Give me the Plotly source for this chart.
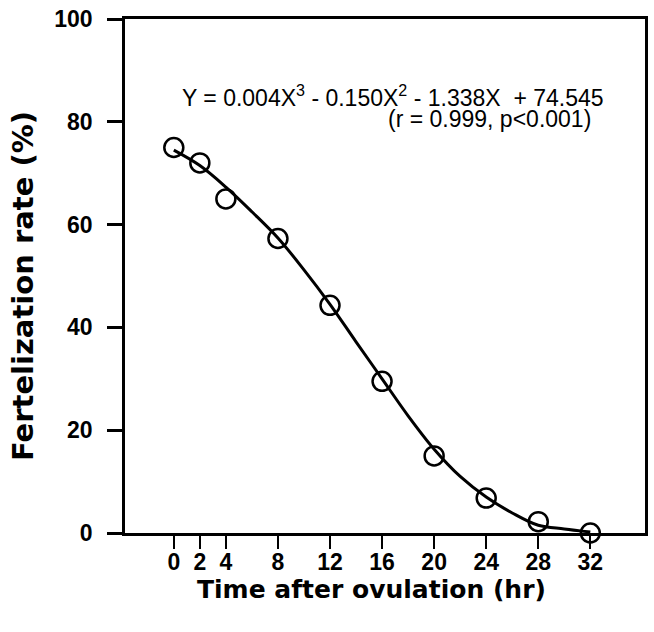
import plotly.graph_objects as go

# Observed data (time after ovulation in hr, fertilization rate in %)
time_hr = [0, 2, 4, 8, 12, 16, 20, 24, 28, 32]
fert_rate = [75.0, 72.0, 65.0, 57.3, 44.3, 29.5, 15.0, 6.8, 2.2, 0.0]

# Fitted curve as drawn in the figure
curve_x = [0, 2, 4, 6, 8, 10, 12, 14, 16, 18, 20, 22, 24, 26, 28, 30, 32]
curve_y = [74.5, 71.5, 67.3, 62.5, 57.4, 51.2, 44.5, 37.2, 30.0, 22.8, 16.3, 11.0, 7.0, 3.9, 1.5, 0.8, 0.2]

x_ticks = [0, 2, 4, 8, 12, 16, 20, 24, 28, 32]
y_ticks = [0, 20, 40, 60, 80, 100]

x_title = "Time after ovulation (hr)"
y_title = "Fertelization rate (%)"
eq_line1 = "Y = 0.004X<sup>3</sup> - 0.150X<sup>2</sup> - 1.338X  + 74.545"
eq_line2 = "(r = 0.999, p<0.001)"

W, H = 654, 632
ML, MR, MT, MB = 125, 6, 16, 99
PW, PH = W - ML - MR, H - MT - MB


def px_x(px):
    return (px - ML) / PW


def px_y(py):
    return (H - MB - py) / PH


fig = go.Figure()
fig.add_trace(go.Scatter(
    x=curve_x, y=curve_y, mode="lines",
    line=dict(color="black", width=3, shape="spline", smoothing=1.0),
    showlegend=False, cliponaxis=False, hoverinfo="skip"))
fig.add_trace(go.Scatter(
    x=time_hr, y=fert_rate, mode="markers",
    marker=dict(symbol="circle", size=19, color="rgba(0,0,0,0)",
                line=dict(color="black", width=2.5)),
    showlegend=False, cliponaxis=False))

tickfont = dict(family="Liberation Sans, Arial, sans-serif", size=23, color="black", weight="bold")
eqfont = dict(family="Liberation Sans, Arial, sans-serif", size=23, color="black")

fig.update_layout(
    width=W, height=H,
    margin=dict(l=ML, r=MR, t=MT, b=MB),
    paper_bgcolor="white", plot_bgcolor="white",
    xaxis=dict(range=[-3.75, 36.2], tickmode="array", tickvals=x_ticks,
               ticks="outside", ticklen=13, tickwidth=2, tickcolor="black",
               showline=True, linecolor="black", linewidth=2.5, mirror=True,
               showgrid=False, zeroline=False, tickfont=tickfont,
               ticklabelstandoff=-6),
    yaxis=dict(range=[0, 100], tickmode="array", tickvals=y_ticks,
               ticks="outside", ticklen=15, tickwidth=2.5, tickcolor="black",
               showline=True, linecolor="black", linewidth=2.5, mirror=True,
               showgrid=False, zeroline=False, tickfont=tickfont,
               ticklabelstandoff=10),
    annotations=[
        dict(text=eq_line1, x=px_x(609), y=81.8, xref="paper", yref="y", showarrow=False,
             xanchor="right", yanchor="bottom", font=eqfont),
        dict(text=eq_line2, x=px_x(596), y=77.6, xref="paper", yref="y", showarrow=False,
             xanchor="right", yanchor="bottom", font=eqfont),
        dict(text=x_title, x=px_x(373), y=px_y(590), xref="paper", yref="paper",
             showarrow=False, xanchor="center", yanchor="middle",
             font=dict(family="DejaVu Sans, sans-serif", size=25, color="black", weight="bold")),
        dict(text=y_title, x=px_x(23), y=px_y(285), xref="paper", yref="paper",
             showarrow=False, xanchor="center", yanchor="middle", textangle=-90,
             font=dict(family="DejaVu Sans, sans-serif", size=29, color="black", weight="bold")),
    ],
)

fig.write_html("out.html")
